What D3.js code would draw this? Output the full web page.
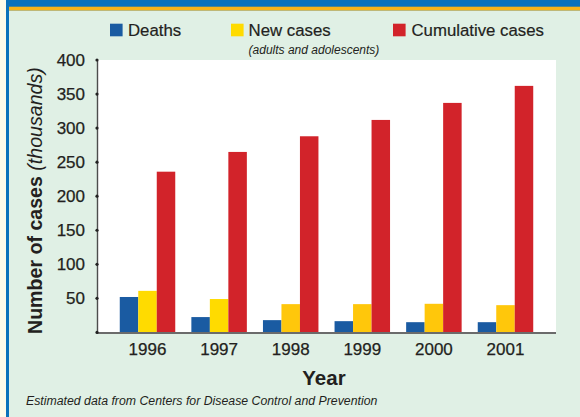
<!DOCTYPE html>
<html>
<head>
<meta charset="utf-8">
<script src="https://cdn.jsdelivr.net/npm/d3@7"></script>
<style>
  html, body { margin: 0; padding: 0; background: #fdfbea; }
  svg { display: block; }
  text { font-family: "Liberation Sans", Arial, Helvetica, sans-serif; fill: #231f20; }
</style>
</head>
<body>
<svg id="chart" width="580" height="417"></svg>
<script>
// ---- data ----
const years = ["1996", "1997", "1998", "1999", "2000", "2001"];
const deaths = [52, 22.5, 18, 16.5, 15, 15];
const newCases = [61, 49, 41.5, 41.5, 42, 40];
const cumulativeCases = [236, 265, 288, 312, 337, 362];
const seriesNames = ["Deaths", "New cases", "Cumulative cases"];
const yTicks = [50, 100, 150, 200, 250, 300, 350, 400];

// ---- styles ----
const colors = { "Deaths": "#1a5ba2", "New cases": "#ffc70b", "Cumulative cases": "#d2232a" };
const newCasesEarly = "#ffdb00";

const svg = d3.select("#chart");
const W = 580, H = 417;

// frame
svg.append("rect").attr("x", 0).attr("y", 0).attr("width", W).attr("height", H).attr("fill", "#fdfbea");
svg.append("rect").attr("x", 6).attr("y", 0).attr("width", W - 6).attr("height", H).attr("fill", "#0b72bb");
svg.append("rect").attr("x", 9).attr("y", 6.7).attr("width", W - 9).attr("height", 4).attr("fill", "#f8b418");
svg.append("rect").attr("x", 9).attr("y", 10.7).attr("width", W - 9).attr("height", H - 10.7).attr("fill", "#e0f0e5");

const plot = { left: 97, right: 556, top: 60, bottom: 332.4 };

svg.append("rect")
  .attr("x", plot.left).attr("y", plot.top)
  .attr("width", plot.right - plot.left).attr("height", plot.bottom - plot.top)
  .attr("fill", "#ffffff");

const x0 = d3.scaleBand().domain(years).range([plot.left, plot.right])
  .paddingInner(0.225).paddingOuter(0.318);
const x1 = d3.scaleBand().domain(seriesNames).range([0, x0.bandwidth()]).padding(0);
const y = d3.scaleLinear().domain([0, 400]).range([plot.bottom, plot.top]);

const table = years.map((yr, i) => ({
  year: yr,
  values: [
    { key: "Deaths", value: deaths[i] },
    { key: "New cases", value: newCases[i] },
    { key: "Cumulative cases", value: cumulativeCases[i] }
  ]
}));

const groups = svg.append("g").selectAll("g").data(table).join("g")
  .attr("transform", d => `translate(${x0(d.year)},0)`);

groups.selectAll("rect").data(d => d.values.map(v => ({ ...v, year: d.year }))).join("rect")
  .attr("x", d => x1(d.key))
  .attr("y", d => y(d.value))
  .attr("width", x1.bandwidth())
  .attr("height", d => y(0) - y(d.value))
  .attr("fill", d => (d.key === "New cases" && (d.year === "1996" || d.year === "1997")) ? newCasesEarly : colors[d.key]);

// x axis baseline
svg.append("line")
  .attr("x1", plot.left).attr("x2", plot.right)
  .attr("y1", y(0) + 0.5).attr("y2", y(0) + 0.5)
  .attr("stroke", "#6b6b6b").attr("stroke-width", 2);

// y axis
const yAxis = d3.axisLeft(y).tickValues(yTicks).tickSize(0).tickPadding(12);
const yg = svg.append("g").attr("transform", `translate(${plot.left},0)`).call(yAxis);
yg.select(".domain").attr("stroke", "#4d4d4d").attr("stroke-width", 1.4);
yg.selectAll(".tick text")
  .attr("font-size", "17px").attr("fill", "#231f20")
  .attr("stroke", "#231f20").attr("stroke-width", 0.25)
  .style("font-family", '"Liberation Sans", Arial, sans-serif');
svg.append("g").selectAll("circle").data([0].concat(yTicks)).join("circle")
  .attr("cx", plot.left).attr("cy", d => y(d)).attr("r", 1.6).attr("fill", "#222");

// x axis labels
const xAxis = d3.axisBottom(x0).tickSize(0).tickPadding(11);
const xg = svg.append("g").attr("transform", `translate(0,${plot.bottom})`).call(xAxis);
xg.select(".domain").remove();
xg.selectAll(".tick text")
  .attr("font-size", "17px").attr("fill", "#231f20")
  .attr("stroke", "#231f20").attr("stroke-width", 0.25)
  .style("font-family", '"Liberation Sans", Arial, sans-serif');

// axis titles
svg.append("text")
  .attr("x", 324).attr("y", 385)
  .attr("text-anchor", "middle")
  .attr("font-size", "20.5px").attr("font-weight", "bold")
  .text("Year");

const yt = svg.append("text")
  .attr("transform", "translate(41.5,334) rotate(-90)")
  .attr("text-anchor", "start")
  .attr("font-size", "19.6px");
yt.append("tspan").attr("font-weight", "bold").text("Number of cases");
yt.append("tspan").attr("font-style", "italic").text(" (thousands)");

// legend
const legendPos = [
  { key: "Deaths", sx: 110, tx: 128 },
  { key: "New cases", sx: 231, tx: 248.6 },
  { key: "Cumulative cases", sx: 393, tx: 411.5 }
];
const lg = svg.append("g");
legendPos.forEach(p => {
  lg.append("rect").attr("x", p.sx).attr("y", 23.7).attr("width", 12.6).attr("height", 12.6)
    .attr("fill", p.key === "New cases" ? newCasesEarly : colors[p.key]);
  lg.append("text").attr("x", p.tx).attr("y", 36).attr("font-size", "16.8px")
    .attr("stroke", "#231f20").attr("stroke-width", 0.2).text(p.key);
});
lg.append("text").attr("x", 248.6).attr("y", 53.5)
  .attr("font-size", "12px").attr("font-style", "italic").attr("fill", "#333")
  .text("(adults and adolescents)");

// footer
svg.append("text")
  .attr("x", 26).attr("y", 405)
  .attr("font-size", "12.3px").attr("font-style", "italic").attr("fill", "#333")
  .text("Estimated data from Centers for Disease Control and Prevention");
</script>
</body>
</html>
